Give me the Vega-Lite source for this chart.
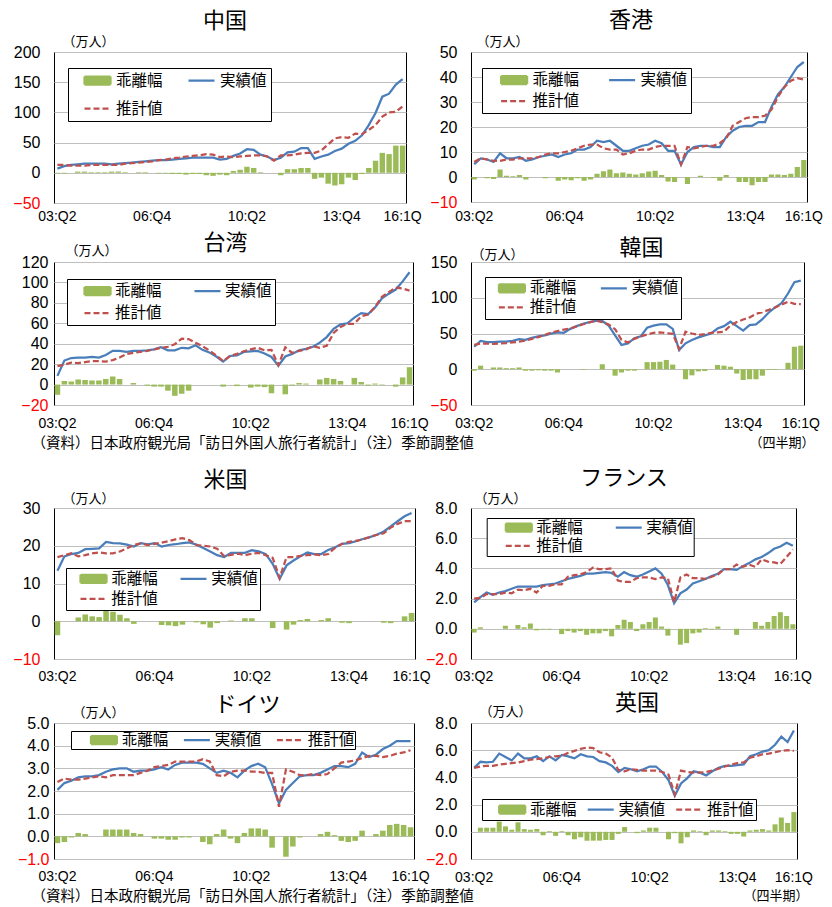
{
"$schema": "https://vega.github.io/schema/vega-lite/v6.json",
"background": "white",
"padding": 0,
"columns": 4,
"spacing": 0,
"bounds": "flush",
"resolve": {"scale": {"color": "independent"}, "legend": {"color": "independent"}},
"config": {
  "font": "Noto Sans CJK JP",
  "view": {"stroke": "#000000", "strokeWidth": 1},
  "title": {"font": "Noto Sans CJK JP", "fontSize": 22, "fontWeight": "normal", "frame": "group", "anchor": "middle", "baseline": "bottom", "color": "#000000"},
  "axisX": {"ticks": false, "domain": false, "grid": false, "labelAngle": 0, "labelFont": "Liberation Sans", "labelFontSize": 14, "labelColor": "#000000", "labelOverlap": false, "titleFont": "Noto Sans CJK JP", "titleFontWeight": "normal", "titleColor": "#000000", "titleAngle": 0, "titleAlign": "left", "titleBaseline": "middle"},
  "axisY": {"grid": true, "gridColor": "#BFBFBF", "gridWidth": 1, "domain": false, "ticks": false, "labelOverlap": false, "labelBound": false, "labelFont": "Liberation Sans", "labelFontSize": 16, "labelPadding": 14, "titleFont": "Noto Sans CJK JP", "titleFontSize": 13, "titleFontWeight": "normal", "titleColor": "#000000", "titleAngle": 0, "titleAlign": "left", "titleBaseline": "bottom"},
  "legend": {"orient": "none", "direction": "horizontal", "strokeColor": "#000000", "fillColor": "#FFFFFF", "cornerRadius": 0, "strokeWidth": 1, "symbolSize": 676, "symbolOffset": 0, "clipHeight": 18, "labelFont": "Noto Sans CJK JP", "labelFontSize": 15.5, "labelColor": "#000000", "labelLimit": 300, "titleOrient": "left", "titleFontSize": 1, "titleColor": "#FFFFFF"},
  "line": {"strokeWidth": 2.25},
  "bar": {"color": "#9BBB59"},
  "point": {"size": 0, "strokeWidth": 0, "opacity": 0}
},
"datasets": {
"cn": [{"i":0,"a":7,"e":13,"g":-1},{"i":1,"a":11,"e":13,"g":-1},{"i":2,"a":13,"e":12,"g":0},{"i":3,"a":14,"e":12,"g":2},{"i":4,"a":15,"e":12,"g":2},{"i":5,"a":15,"e":13,"g":1},{"i":6,"a":15,"e":13,"g":1},{"i":7,"a":15,"e":13,"g":1},{"i":8,"a":14,"e":13,"g":2},{"i":9,"a":15,"e":13,"g":2},{"i":10,"a":16,"e":15,"g":1},{"i":11,"a":17,"e":16,"g":0},{"i":12,"a":18,"e":17,"g":1},{"i":13,"a":19,"e":18,"g":1},{"i":14,"a":20,"e":19,"g":0},{"i":15,"a":21,"e":21,"g":-1},{"i":16,"a":21,"e":22,"g":-1},{"i":17,"a":22,"e":24,"g":-2},{"i":18,"a":23,"e":25,"g":-2},{"i":19,"a":24,"e":27,"g":-3},{"i":20,"a":25,"e":28,"g":-2},{"i":21,"a":25,"e":29,"g":-2},{"i":22,"a":25,"e":31,"g":-4},{"i":23,"a":25,"e":30,"g":-5},{"i":24,"a":22,"e":26,"g":-3},{"i":25,"a":23,"e":27,"g":-4},{"i":26,"a":28,"e":26,"g":3},{"i":27,"a":32,"e":27,"g":5},{"i":28,"a":39,"e":28,"g":10},{"i":29,"a":38,"e":29,"g":8},{"i":30,"a":30,"e":29,"g":1},{"i":31,"a":27,"e":27,"g":0},{"i":32,"a":21,"e":20,"g":0},{"i":33,"a":25,"e":29,"g":-4},{"i":34,"a":34,"e":29,"g":6},{"i":35,"a":35,"e":30,"g":6},{"i":36,"a":41,"e":32,"g":8},{"i":37,"a":41,"e":33,"g":8},{"i":38,"a":23,"e":33,"g":-10},{"i":39,"a":27,"e":37,"g":-8},{"i":40,"a":30,"e":47,"g":-18},{"i":41,"a":36,"e":57,"g":-21},{"i":42,"a":40,"e":59,"g":-19},{"i":43,"a":48,"e":58,"g":-8},{"i":44,"a":53,"e":65,"g":-12},{"i":45,"a":62,"e":64,"g":-2},{"i":46,"a":79,"e":71,"g":8},{"i":47,"a":99,"e":79,"g":20},{"i":48,"a":126,"e":93,"g":33},{"i":49,"a":131,"e":100,"g":31},{"i":50,"a":146,"e":101,"g":45},{"i":51,"a":155,"e":110,"g":45}],
"hk": [{"i":0,"a":5.1,"e":6,"g":-1},{"i":1,"a":7.4,"e":7.5,"g":0},{"i":2,"a":7,"e":7,"g":-0.5},{"i":3,"a":6,"e":6.5,"g":-0.8},{"i":4,"a":9.5,"e":6.5,"g":3},{"i":5,"a":7.5,"e":7,"g":0.5},{"i":6,"a":7.5,"e":7,"g":0.3},{"i":7,"a":8,"e":7.5,"g":0.8},{"i":8,"a":6.5,"e":7.5,"g":-1},{"i":9,"a":7,"e":7.5,"g":0},{"i":10,"a":8,"e":8,"g":0},{"i":11,"a":8.5,"e":9,"g":-0.5},{"i":12,"a":9,"e":9.5,"g":0},{"i":13,"a":8,"e":9.5,"g":-1.5},{"i":14,"a":9,"e":10,"g":-1},{"i":15,"a":9.5,"e":10.5,"g":-1.3},{"i":16,"a":11,"e":11.5,"g":-0.5},{"i":17,"a":11,"e":12.5,"g":-1.5},{"i":18,"a":12,"e":13,"g":-1},{"i":19,"a":14.5,"e":13,"g":1.3},{"i":20,"a":14,"e":11.5,"g":2.3},{"i":21,"a":14.5,"e":11,"g":3},{"i":22,"a":12.5,"e":11,"g":1.5},{"i":23,"a":10.5,"e":9,"g":1.8},{"i":24,"a":10.5,"e":9.5,"g":1.3},{"i":25,"a":11.5,"e":10.5,"g":1},{"i":26,"a":12.5,"e":11,"g":1.5},{"i":27,"a":13,"e":11,"g":2.2},{"i":28,"a":14.5,"e":12,"g":2.5},{"i":29,"a":13.5,"e":12.5,"g":0.8},{"i":30,"a":10.5,"e":12.5,"g":-1.8},{"i":31,"a":10.5,"e":12.5,"g":-2},{"i":32,"a":5,"e":5,"g":0},{"i":33,"a":10,"e":12,"g":-2.8},{"i":34,"a":12,"e":11.5,"g":0},{"i":35,"a":12.5,"e":12,"g":0.5},{"i":36,"a":12.5,"e":12.5,"g":0},{"i":37,"a":12,"e":12.5,"g":-0.3},{"i":38,"a":12,"e":13.5,"g":-1.5},{"i":39,"a":16,"e":15.5,"g":0.8},{"i":40,"a":18.5,"e":20.5,"g":0},{"i":41,"a":20,"e":22,"g":-2},{"i":42,"a":20.5,"e":23.5,"g":-2},{"i":43,"a":20.5,"e":24,"g":-3.3},{"i":44,"a":22,"e":24,"g":-2},{"i":45,"a":22,"e":24.5,"g":-2},{"i":46,"a":28,"e":27,"g":1},{"i":47,"a":33,"e":32,"g":1},{"i":48,"a":36,"e":36,"g":0.8},{"i":49,"a":40,"e":38.5,"g":1.3},{"i":50,"a":44,"e":39.5,"g":4},{"i":51,"a":46,"e":39,"g":6.8}],
"tw": [{"i":0,"a":8.5,"e":18,"g":-10},{"i":1,"a":23.5,"e":19.5,"g":3.5},{"i":2,"a":26,"e":21.5,"g":3},{"i":3,"a":26.5,"e":21,"g":5},{"i":4,"a":26.5,"e":22,"g":4.5},{"i":5,"a":27,"e":23,"g":4},{"i":6,"a":26.5,"e":23,"g":4},{"i":7,"a":29,"e":22.5,"g":5.5},{"i":8,"a":33,"e":24,"g":8},{"i":9,"a":33,"e":26.5,"g":5.5},{"i":10,"a":32,"e":30,"g":0},{"i":11,"a":33,"e":31,"g":1.5},{"i":12,"a":33,"e":32,"g":0},{"i":13,"a":33.5,"e":33,"g":-1},{"i":14,"a":34.5,"e":34.5,"g":-2},{"i":15,"a":36.5,"e":36,"g":-2},{"i":16,"a":33.5,"e":37,"g":-6},{"i":17,"a":33.5,"e":39.5,"g":-11},{"i":18,"a":36,"e":45,"g":-9},{"i":19,"a":35.5,"e":44.5,"g":-6},{"i":20,"a":38.5,"e":41,"g":0},{"i":21,"a":34,"e":37.5,"g":0},{"i":22,"a":31.5,"e":33.5,"g":0},{"i":23,"a":27.5,"e":28.5,"g":0},{"i":24,"a":22.5,"e":23,"g":-2},{"i":25,"a":28,"e":28,"g":0},{"i":26,"a":28.5,"e":30,"g":-1.5},{"i":27,"a":32,"e":32.5,"g":0},{"i":28,"a":32.5,"e":34.5,"g":-3},{"i":29,"a":33,"e":36,"g":-2},{"i":30,"a":30.5,"e":33.5,"g":-2.5},{"i":31,"a":27,"e":34,"g":-8.5},{"i":32,"a":18.5,"e":19,"g":0},{"i":33,"a":27.5,"e":36.5,"g":-9.5},{"i":34,"a":30,"e":31,"g":-1},{"i":35,"a":33.5,"e":33,"g":1.5},{"i":36,"a":35,"e":34.5,"g":1},{"i":37,"a":37,"e":37.5,"g":0},{"i":38,"a":41,"e":36,"g":5},{"i":39,"a":46.5,"e":38,"g":6.5},{"i":40,"a":54.5,"e":50.5,"g":5.5},{"i":41,"a":59,"e":56.5,"g":3.5},{"i":42,"a":60,"e":59.5,"g":0},{"i":43,"a":65.5,"e":59.5,"g":6.5},{"i":44,"a":70,"e":67,"g":2.5},{"i":45,"a":69,"e":68.5,"g":-1},{"i":46,"a":75.5,"e":76,"g":1},{"i":47,"a":84.5,"e":86,"g":-0.5},{"i":48,"a":89,"e":90.5,"g":0},{"i":49,"a":93,"e":95,"g":-2},{"i":50,"a":101,"e":94,"g":7},{"i":51,"a":110,"e":92,"g":17}],
"kr": [{"i":0,"a":31.5,"e":34,"g":-2},{"i":1,"a":39.7,"e":36,"g":5},{"i":2,"a":37.8,"e":36,"g":0},{"i":3,"a":38,"e":35.5,"g":2.5},{"i":4,"a":38.7,"e":36,"g":2.5},{"i":5,"a":38.7,"e":36.5,"g":1.5},{"i":6,"a":39.7,"e":37.5,"g":1.5},{"i":7,"a":42,"e":38.5,"g":2.5},{"i":8,"a":41,"e":40,"g":-2},{"i":9,"a":44,"e":42.5,"g":-2},{"i":10,"a":46,"e":45,"g":-1.5},{"i":11,"a":47.3,"e":48,"g":-2},{"i":12,"a":49.8,"e":51,"g":-2},{"i":13,"a":51.7,"e":53.5,"g":-4.5},{"i":14,"a":51,"e":55.5,"g":0},{"i":15,"a":56.5,"e":57,"g":0},{"i":16,"a":60.3,"e":60,"g":0},{"i":17,"a":63.7,"e":63,"g":-1},{"i":18,"a":66,"e":65.5,"g":0},{"i":19,"a":67.5,"e":68,"g":0},{"i":20,"a":67.5,"e":66,"g":7},{"i":21,"a":61,"e":62.5,"g":0},{"i":22,"a":47.3,"e":56,"g":-9},{"i":23,"a":34,"e":41,"g":-4.5},{"i":24,"a":36,"e":37.5,"g":-2},{"i":25,"a":43.5,"e":42.5,"g":-2},{"i":26,"a":46,"e":46,"g":0},{"i":27,"a":58,"e":48.5,"g":10},{"i":28,"a":61,"e":51,"g":10},{"i":29,"a":62.7,"e":51.5,"g":10.5},{"i":30,"a":62.7,"e":50.5,"g":13},{"i":31,"a":56.5,"e":49.5,"g":6.5},{"i":32,"a":26.8,"e":28.5,"g":0},{"i":33,"a":36.3,"e":52.5,"g":-14},{"i":34,"a":41,"e":50,"g":-8.5},{"i":35,"a":44.5,"e":48,"g":-3},{"i":36,"a":47.3,"e":49,"g":-2.5},{"i":37,"a":50,"e":51,"g":0},{"i":38,"a":57,"e":51.5,"g":6},{"i":39,"a":60.3,"e":52.5,"g":5},{"i":40,"a":66.5,"e":61,"g":3.5},{"i":41,"a":60.3,"e":66,"g":-6},{"i":42,"a":54,"e":69.5,"g":-15},{"i":43,"a":61.7,"e":72.5,"g":-14},{"i":44,"a":62.7,"e":77.5,"g":-14},{"i":45,"a":70,"e":80,"g":-9},{"i":46,"a":79.4,"e":83,"g":-1},{"i":47,"a":86.6,"e":86.5,"g":-1},{"i":48,"a":92.4,"e":90.5,"g":0},{"i":49,"a":105.9,"e":94.5,"g":9},{"i":50,"a":121.7,"e":91.5,"g":31.5},{"i":51,"a":124,"e":91,"g":33}],
"us": [{"i":0,"a":13.4,"e":17,"g":-3.7},{"i":1,"a":17.2,"e":17.5,"g":0},{"i":2,"a":17.8,"e":18,"g":0},{"i":3,"a":18.1,"e":17.2,"g":1},{"i":4,"a":19.1,"e":17.5,"g":1.8},{"i":5,"a":19.2,"e":18,"g":1.3},{"i":6,"a":19.3,"e":18.2,"g":1.1},{"i":7,"a":21,"e":18,"g":3},{"i":8,"a":20.7,"e":18,"g":2.5},{"i":9,"a":20.6,"e":18.5,"g":1.7},{"i":10,"a":20.3,"e":19.3,"g":0.8},{"i":11,"a":19.8,"e":20.2,"g":-0.7},{"i":12,"a":20.7,"e":20.6,"g":0},{"i":13,"a":20.4,"e":20.2,"g":0},{"i":14,"a":20.7,"e":20.5,"g":0},{"i":15,"a":19.8,"e":20.8,"g":-1},{"i":16,"a":20.2,"e":21.2,"g":-1.1},{"i":17,"a":20.4,"e":21.7,"g":-1.3},{"i":18,"a":20.7,"e":22,"g":-0.9},{"i":19,"a":20.9,"e":21.5,"g":0},{"i":20,"a":20.3,"e":20.2,"g":-0.3},{"i":21,"a":19.4,"e":20,"g":-0.8},{"i":22,"a":18.5,"e":19.8,"g":-1.7},{"i":23,"a":17.5,"e":19.2,"g":-0.5},{"i":24,"a":17,"e":17.3,"g":0},{"i":25,"a":18.1,"e":17.6,"g":0.2},{"i":26,"a":18.1,"e":17.9,"g":0},{"i":27,"a":18.1,"e":17.5,"g":0.8},{"i":28,"a":18.8,"e":17.9,"g":0.8},{"i":29,"a":18.5,"e":18.1,"g":0},{"i":30,"a":17.8,"e":17.5,"g":0},{"i":31,"a":15.2,"e":16.8,"g":-1.8},{"i":32,"a":11.2,"e":11.5,"g":0},{"i":33,"a":14.8,"e":17,"g":-2.2},{"i":34,"a":16.1,"e":17,"g":-0.9},{"i":35,"a":17.2,"e":17.3,"g":0.3},{"i":36,"a":18.2,"e":17.5,"g":0.6},{"i":37,"a":17.8,"e":17.7,"g":0},{"i":38,"a":17.8,"e":17.5,"g":0.3},{"i":39,"a":18.9,"e":17.8,"g":0.8},{"i":40,"a":19.6,"e":19.5,"g":0},{"i":41,"a":20.5,"e":20.5,"g":-0.4},{"i":42,"a":20.7,"e":21,"g":-0.5},{"i":43,"a":21.2,"e":21.3,"g":0},{"i":44,"a":21.8,"e":21.7,"g":0},{"i":45,"a":22.3,"e":22.3,"g":0},{"i":46,"a":22.9,"e":22.9,"g":0},{"i":47,"a":23.8,"e":23.3,"g":-0.4},{"i":48,"a":25.1,"e":24.8,"g":-0.5},{"i":49,"a":26.5,"e":25.8,"g":0},{"i":50,"a":27.8,"e":26.5,"g":1.3},{"i":51,"a":28.7,"e":26.5,"g":2.2}],
"fr": [{"i":0,"a":1.75,"e":2.0,"g":-0.25},{"i":1,"a":2.1,"e":2.05,"g":0.1},{"i":2,"a":2.4,"e":2.3,"g":0},{"i":3,"a":2.25,"e":2.3,"g":0},{"i":4,"a":2.4,"e":2.3,"g":0},{"i":5,"a":2.5,"e":2.4,"g":0.2},{"i":6,"a":2.65,"e":2.35,"g":0},{"i":7,"a":2.8,"e":2.6,"g":0.25},{"i":8,"a":2.8,"e":2.55,"g":0.1},{"i":9,"a":2.8,"e":2.65,"g":0.35},{"i":10,"a":2.8,"e":2.4,"g":-0.1},{"i":11,"a":2.9,"e":2.85,"g":-0.05},{"i":12,"a":2.95,"e":2.85,"g":-0.05},{"i":13,"a":3.0,"e":2.95,"g":0},{"i":14,"a":3.15,"e":2.95,"g":-0.35},{"i":15,"a":3.3,"e":3.45,"g":-0.15},{"i":16,"a":3.4,"e":3.55,"g":-0.25},{"i":17,"a":3.5,"e":3.6,"g":-0.15},{"i":18,"a":3.65,"e":3.75,"g":-0.4},{"i":19,"a":3.65,"e":4.05,"g":-0.3},{"i":20,"a":3.7,"e":3.95,"g":-0.3},{"i":21,"a":3.75,"e":3.95,"g":-0.15},{"i":22,"a":3.7,"e":4.0,"g":-0.5},{"i":23,"a":3.45,"e":3.2,"g":0.25},{"i":24,"a":3.75,"e":3.1,"g":0.6},{"i":25,"a":3.55,"e":3.1,"g":0.45},{"i":26,"a":3.45,"e":3.35,"g":-0.15},{"i":27,"a":3.6,"e":3.4,"g":0.3},{"i":28,"a":3.8,"e":3.4,"g":0.45},{"i":29,"a":4.0,"e":3.3,"g":0.75},{"i":30,"a":3.65,"e":3.4,"g":0.15},{"i":31,"a":2.9,"e":3.35,"g":-0.45},{"i":32,"a":1.7,"e":1.75,"g":0},{"i":33,"a":2.35,"e":3.4,"g":-1.05},{"i":34,"a":2.6,"e":3.6,"g":-0.95},{"i":35,"a":3.0,"e":3.35,"g":-0.3},{"i":36,"a":3.15,"e":3.35,"g":-0.25},{"i":37,"a":3.3,"e":3.3,"g":0.05},{"i":38,"a":3.5,"e":3.45,"g":-0.05},{"i":39,"a":3.65,"e":3.6,"g":0.15},{"i":40,"a":3.95,"e":3.95,"g":0},{"i":41,"a":3.95,"e":3.95,"g":0},{"i":42,"a":3.9,"e":4.25,"g":-0.4},{"i":43,"a":4.15,"e":4.1,"g":0},{"i":44,"a":4.35,"e":4.25,"g":0},{"i":45,"a":4.6,"e":4.1,"g":0.45},{"i":46,"a":4.75,"e":4.6,"g":0.2},{"i":47,"a":5.0,"e":4.45,"g":0.45},{"i":48,"a":5.3,"e":4.4,"g":0.85},{"i":49,"a":5.45,"e":4.3,"g":1.1},{"i":50,"a":5.7,"e":4.75,"g":0.85},{"i":51,"a":5.5,"e":5.25,"g":0.3}],
"de": [{"i":0,"a":2.05,"e":2.4,"g":-0.3},{"i":1,"a":2.35,"e":2.55,"g":-0.25},{"i":2,"a":2.45,"e":2.5,"g":-0.05},{"i":3,"a":2.6,"e":2.5,"g":0.15},{"i":4,"a":2.65,"e":2.55,"g":0.1},{"i":5,"a":2.65,"e":2.6,"g":0},{"i":6,"a":2.7,"e":2.65,"g":0},{"i":7,"a":2.85,"e":2.6,"g":0.3},{"i":8,"a":2.95,"e":2.7,"g":0.3},{"i":9,"a":3.0,"e":2.7,"g":0.3},{"i":10,"a":3.0,"e":2.7,"g":0.3},{"i":11,"a":2.85,"e":2.7,"g":0.15},{"i":12,"a":2.9,"e":2.8,"g":0.1},{"i":13,"a":2.9,"e":2.9,"g":0},{"i":14,"a":2.95,"e":3.05,"g":-0.1},{"i":15,"a":3.05,"e":3.1,"g":-0.1},{"i":16,"a":2.95,"e":3.15,"g":-0.15},{"i":17,"a":3.15,"e":3.3,"g":-0.15},{"i":18,"a":3.25,"e":3.3,"g":-0.05},{"i":19,"a":3.25,"e":3.3,"g":-0.05},{"i":20,"a":3.25,"e":3.3,"g":0},{"i":21,"a":3.2,"e":3.4,"g":-0.25},{"i":22,"a":3.0,"e":3.3,"g":-0.35},{"i":23,"a":2.8,"e":2.7,"g":0.1},{"i":24,"a":2.9,"e":2.65,"g":0.3},{"i":25,"a":2.8,"e":2.85,"g":-0.1},{"i":26,"a":2.6,"e":2.9,"g":-0.3},{"i":27,"a":2.9,"e":2.9,"g":0.15},{"i":28,"a":3.1,"e":2.85,"g":0.35},{"i":29,"a":3.2,"e":2.85,"g":0.35},{"i":30,"a":3.05,"e":2.8,"g":0.3},{"i":31,"a":2.3,"e":2.8,"g":-0.5},{"i":32,"a":1.45,"e":1.3,"g":0},{"i":33,"a":2.05,"e":2.95,"g":-0.9},{"i":34,"a":2.35,"e":2.85,"g":-0.45},{"i":35,"a":2.65,"e":2.7,"g":-0.05},{"i":36,"a":2.7,"e":2.7,"g":0},{"i":37,"a":2.7,"e":2.75,"g":0},{"i":38,"a":2.8,"e":2.7,"g":0.1},{"i":39,"a":2.95,"e":2.75,"g":0.2},{"i":40,"a":3.1,"e":3.0,"g":0.05},{"i":41,"a":3.1,"e":3.25,"g":-0.2},{"i":42,"a":3.05,"e":3.3,"g":-0.25},{"i":43,"a":3.2,"e":3.35,"g":-0.2},{"i":44,"a":3.7,"e":3.45,"g":0.25},{"i":45,"a":3.5,"e":3.55,"g":0},{"i":46,"a":3.6,"e":3.55,"g":0.1},{"i":47,"a":3.85,"e":3.5,"g":0.25},{"i":48,"a":4.0,"e":3.55,"g":0.5},{"i":49,"a":4.2,"e":3.65,"g":0.55},{"i":50,"a":4.2,"e":3.7,"g":0.5},{"i":51,"a":4.2,"e":3.8,"g":0.4}],
"uk": [{"i":0,"a":4.7,"e":4.7,"g":0},{"i":1,"a":5.15,"e":4.8,"g":0.3},{"i":2,"a":5.1,"e":4.85,"g":0.3},{"i":3,"a":5.15,"e":4.85,"g":0.3},{"i":4,"a":5.75,"e":4.95,"g":0.75},{"i":5,"a":5.5,"e":5.0,"g":0.4},{"i":6,"a":5.25,"e":5.05,"g":0.15},{"i":7,"a":5.75,"e":5.1,"g":0.7},{"i":8,"a":5.4,"e":5.2,"g":0.2},{"i":9,"a":5.4,"e":5.3,"g":0.15},{"i":10,"a":5.55,"e":5.35,"g":0.2},{"i":11,"a":5.2,"e":5.4,"g":-0.25},{"i":12,"a":5.55,"e":5.5,"g":0.05},{"i":13,"a":5.25,"e":5.55,"g":-0.3},{"i":14,"a":5.65,"e":5.6,"g":0.05},{"i":15,"a":5.55,"e":5.8,"g":-0.25},{"i":16,"a":5.4,"e":5.95,"g":-0.55},{"i":17,"a":5.7,"e":6.1,"g":-0.4},{"i":18,"a":5.55,"e":6.2,"g":-0.65},{"i":19,"a":5.5,"e":6.15,"g":-0.65},{"i":20,"a":5.2,"e":5.85,"g":-0.65},{"i":21,"a":5.1,"e":5.75,"g":-0.6},{"i":22,"a":4.85,"e":5.45,"g":-0.6},{"i":23,"a":4.4,"e":4.55,"g":-0.15},{"i":24,"a":4.7,"e":4.45,"g":0.35},{"i":25,"a":4.6,"e":4.6,"g":0},{"i":26,"a":4.45,"e":4.55,"g":-0.1},{"i":27,"a":4.6,"e":4.5,"g":0.1},{"i":28,"a":4.8,"e":4.5,"g":0.3},{"i":29,"a":4.8,"e":4.5,"g":0.3},{"i":30,"a":4.4,"e":4.4,"g":0},{"i":31,"a":3.8,"e":4.2,"g":-0.55},{"i":32,"a":2.65,"e":2.75,"g":-0.1},{"i":33,"a":3.55,"e":4.5,"g":-0.85},{"i":34,"a":3.95,"e":4.4,"g":-0.4},{"i":35,"a":4.45,"e":4.35,"g":0.1},{"i":36,"a":4.35,"e":4.35,"g":0.05},{"i":37,"a":4.15,"e":4.4,"g":-0.25},{"i":38,"a":4.45,"e":4.5,"g":0.1},{"i":39,"a":4.7,"e":4.65,"g":0.1},{"i":40,"a":4.85,"e":4.8,"g":0.05},{"i":41,"a":4.85,"e":4.95,"g":-0.15},{"i":42,"a":4.9,"e":5.05,"g":-0.15},{"i":43,"a":4.95,"e":5.1,"g":-0.35},{"i":44,"a":5.55,"e":5.45,"g":0.1},{"i":45,"a":5.7,"e":5.55,"g":0.15},{"i":46,"a":5.9,"e":5.7,"g":0.2},{"i":47,"a":6.0,"e":5.75,"g":0.1},{"i":48,"a":6.4,"e":5.85,"g":0.55},{"i":49,"a":7.0,"e":5.95,"g":1.05},{"i":50,"a":6.6,"e":6.0,"g":0.65},{"i":51,"a":7.45,"e":5.95,"g":1.45}]
},
"concat": [
{"width": 54, "height": 52, "data": {"values": [{}]}, "mark": "point", "view": {"stroke": null}},
{"width": 1, "height": 52, "data": {"values": [{}]}, "mark": "point", "view": {"stroke": null}},
{"width": 56, "height": 52, "data": {"values": [{}]}, "mark": "point", "view": {"stroke": null}},
{"width": 1, "height": 52, "data": {"values": [{}]}, "mark": "point", "view": {"stroke": null}},

{"width": 54, "height": 1, "data": {"values": [{}]}, "mark": "point", "view": {"stroke": null}},
{"width": 352, "height": 151, "title": {"text": "中国", "offset": 2, "dx": -5}, "data": {"name": "cn"},
 "encoding": {"x": {"field": "i", "type": "ordinal", "scale": {"paddingInner": 0.2, "paddingOuter": 0.1}, "axis": {"values": [0,14,28,42,51], "labelExpr": "datum.value == 0 ? '03:Q2' : datum.value == 14 ? '06:Q4' : datum.value == 28 ? '10:Q2' : datum.value == 42 ? '13:Q4' : '16:1Q'", "title": null, "labelPadding": 6}}},
 "layer": [
  {"mark": {"type": "bar"}, "encoding": {"y": {"field": "g", "type": "quantitative", "title": "（万人）", "scale": {"domain": [-50, 200], "nice": false, "zero": false}, "axis": {"values": [-50,0,50,100,150,200], "tickCount": 50, "format": "d", "titleX": 8, "titleY": -4, "labelColor": {"condition": {"test": "datum.value < 0", "value": "#FF0000"}, "value": "#000000"}}},
   "color": {"datum": "乖離幅", "scale": {"domain": ["乖離幅","実績値","推計値"], "range": ["#9BBB59","#4A7EBB","#C0504D"]},
    "legend": {"legendX": 14, "legendY": 16, "columns": 2, "padding": 3.5, "labelOffset": 4, "columnPadding": 24, "rowPadding": 10, "title": "　", "titlePadding": 11.5,
     "encode": {"symbols": {"update": {"shape": {"signal": "datum.value === '乖離幅' ? 'M-1,-0.3077H1V0.3077H-1Z' : 'M-1,0H1'"}, "fill": {"signal": "datum.value === '乖離幅' ? '#9BBB59' : 'transparent'"}, "stroke": {"signal": "datum.value === '乖離幅' ? 'transparent' : datum.value === '実績値' ? '#4A7EBB' : '#C0504D'"}, "strokeWidth": {"value": 2.25}, "strokeDash": {"signal": "datum.value === '推計値' ? [6,3] : [1,0]"}, "opacity": {"value": 1}, "size": {"value": 676}}}}}}}},
  {"mark": {"type": "line"}, "encoding": {"y": {"field": "a", "type": "quantitative", "title": "（万人）", "scale": {"domain": [-50, 200], "nice": false, "zero": false}}, "color": {"datum": "実績値"}}},
  {"mark": {"type": "line", "strokeDash": [6, 3]}, "encoding": {"y": {"field": "e", "type": "quantitative", "title": "（万人）", "scale": {"domain": [-50, 200], "nice": false, "zero": false}}, "color": {"datum": "推計値"}}}
 ]},
{"width": 56, "height": 1, "data": {"values": [{}]}, "mark": "point", "view": {"stroke": null}},
{"width": 336, "height": 150, "title": {"text": "香港", "offset": 3, "dx": -8}, "data": {"name": "hk"},
 "encoding": {"x": {"field": "i", "type": "ordinal", "scale": {"paddingInner": 0.2, "paddingOuter": 0.1}, "axis": {"values": [0,14,28,42,51], "labelExpr": "datum.value == 0 ? '03:Q2' : datum.value == 14 ? '06:Q4' : datum.value == 28 ? '10:Q2' : datum.value == 42 ? '13:Q4' : '16:1Q'", "title": null, "labelPadding": 7}}},
 "layer": [
  {"mark": {"type": "bar"}, "encoding": {"y": {"field": "g", "type": "quantitative", "title": "（万人）", "scale": {"domain": [-10, 50], "nice": false, "zero": false}, "axis": {"values": [-10,0,10,20,30,40,50], "tickCount": 50, "format": "d", "titleX": 5, "titleY": -4, "labelColor": {"condition": {"test": "datum.value < 0", "value": "#FF0000"}, "value": "#000000"}}},
   "color": {"datum": "乖離幅", "scale": {"domain": ["乖離幅","実績値","推計値"], "range": ["#9BBB59","#4A7EBB","#C0504D"]},
    "legend": {"legendX": 11, "legendY": 16, "columns": 2, "padding": 3, "labelOffset": 4, "columnPadding": 28, "rowPadding": 3, "title": "　", "titlePadding": 14.6,
     "encode": {"symbols": {"update": {"shape": {"signal": "datum.value === '乖離幅' ? 'M-1,-0.3077H1V0.3077H-1Z' : 'M-1,0H1'"}, "fill": {"signal": "datum.value === '乖離幅' ? '#9BBB59' : 'transparent'"}, "stroke": {"signal": "datum.value === '乖離幅' ? 'transparent' : datum.value === '実績値' ? '#4A7EBB' : '#C0504D'"}, "strokeWidth": {"value": 2.25}, "strokeDash": {"signal": "datum.value === '推計値' ? [6,3] : [1,0]"}, "opacity": {"value": 1}, "size": {"value": 676}}}}}}}},
  {"mark": {"type": "line"}, "encoding": {"y": {"field": "a", "type": "quantitative", "title": "（万人）", "scale": {"domain": [-10, 50], "nice": false, "zero": false}}, "color": {"datum": "実績値"}}},
  {"mark": {"type": "line", "strokeDash": [6, 3]}, "encoding": {"y": {"field": "e", "type": "quantitative", "title": "（万人）", "scale": {"domain": [-10, 50], "nice": false, "zero": false}}, "color": {"datum": "推計値"}}}
 ]},

{"width": 54, "height": 59, "data": {"values": [{}]}, "mark": "point", "view": {"stroke": null}},
{"width": 1, "height": 59, "data": {"values": [{}]}, "mark": "point", "view": {"stroke": null}},
{"width": 56, "height": 59, "data": {"values": [{}]}, "mark": "point", "view": {"stroke": null}},
{"width": 1, "height": 59, "data": {"values": [{}]}, "mark": "point", "view": {"stroke": null}},

{"width": 54, "height": 1, "data": {"values": [{}]}, "mark": "point", "view": {"stroke": null}},
{"width": 359, "height": 143, "title": {"text": "台湾", "offset": -11, "dx": -8}, "data": {"name": "tw"},
 "encoding": {"x": {"field": "i", "type": "ordinal", "scale": {"paddingInner": 0.2, "paddingOuter": 0.1}, "axis": {"values": [0,14,28,42,51], "labelExpr": "datum.value == 0 ? '03:Q2' : datum.value == 14 ? '06:Q4' : datum.value == 28 ? '10:Q2' : datum.value == 42 ? '13:Q4' : '16:1Q'", "labelPadding": 11, "title": "（資料）日本政府観光局「訪日外国人旅行者統計」（注）季節調整値", "titleX": -23, "titleY": 38, "titleFontSize": 14.5}}},
 "layer": [
  {"mark": {"type": "bar"}, "encoding": {"y": {"field": "g", "type": "quantitative", "title": "（万人）", "scale": {"domain": [-20, 120], "nice": false, "zero": false}, "axis": {"values": [-20,0,20,40,60,80,100,120], "tickCount": 50, "format": "d", "labelPadding": 6, "titleX": 11, "titleY": -5, "labelColor": {"condition": {"test": "datum.value < 0", "value": "#FF0000"}, "value": "#000000"}}},
   "color": {"datum": "乖離幅", "scale": {"domain": ["乖離幅","実績値","推計値"], "range": ["#9BBB59","#4A7EBB","#C0504D"]},
    "legend": {"legendX": 13, "legendY": 17, "columns": 2, "padding": 3, "labelOffset": 3, "columnPadding": 31, "rowPadding": 4, "title": "　", "titlePadding": 13,
     "encode": {"symbols": {"update": {"shape": {"signal": "datum.value === '乖離幅' ? 'M-1,-0.3077H1V0.3077H-1Z' : 'M-1,0H1'"}, "fill": {"signal": "datum.value === '乖離幅' ? '#9BBB59' : 'transparent'"}, "stroke": {"signal": "datum.value === '乖離幅' ? 'transparent' : datum.value === '実績値' ? '#4A7EBB' : '#C0504D'"}, "strokeWidth": {"value": 2.25}, "strokeDash": {"signal": "datum.value === '推計値' ? [6,3] : [1,0]"}, "opacity": {"value": 1}, "size": {"value": 676}}}}}}}},
  {"mark": {"type": "line"}, "encoding": {"y": {"field": "a", "type": "quantitative", "title": "（万人）", "scale": {"domain": [-20, 120], "nice": false, "zero": false}}, "color": {"datum": "実績値"}}},
  {"mark": {"type": "line", "strokeDash": [6, 3]}, "encoding": {"y": {"field": "e", "type": "quantitative", "title": "（万人）", "scale": {"domain": [-20, 120], "nice": false, "zero": false}}, "color": {"datum": "推計値"}}}
 ]},
{"width": 56, "height": 1, "data": {"values": [{}]}, "mark": "point", "view": {"stroke": null}},
{"width": 333, "height": 143, "title": {"text": "韓国", "offset": -12, "dx": 4}, "data": {"name": "kr"},
 "encoding": {"x": {"field": "i", "type": "ordinal", "scale": {"paddingInner": 0.2, "paddingOuter": 0.1}, "axis": {"values": [0,14,28,42,51], "labelExpr": "datum.value == 0 ? '03:Q2' : datum.value == 14 ? '06:Q4' : datum.value == 28 ? '10:Q2' : datum.value == 42 ? '13:Q4' : '16:1Q'", "labelPadding": 11, "title": "（四半期）", "titleX": 278, "titleY": 37, "titleFontSize": 13}}},
 "layer": [
  {"mark": {"type": "bar"}, "encoding": {"y": {"field": "g", "type": "quantitative", "title": "（万人）", "scale": {"domain": [-50, 150], "nice": false, "zero": false}, "axis": {"values": [-50,0,50,100,150], "tickCount": 50, "format": "d", "titleX": 0, "titleY": -1, "labelColor": {"condition": {"test": "datum.value < 0", "value": "#FF0000"}, "value": "#000000"}}},
   "color": {"datum": "乖離幅", "scale": {"domain": ["乖離幅","実績値","推計値"], "range": ["#9BBB59","#4A7EBB","#C0504D"]},
    "legend": {"legendX": 14, "legendY": 15, "columns": 2, "padding": 2.35, "labelOffset": 3.3, "columnPadding": 23, "rowPadding": 1, "title": "　", "titlePadding": 10,
     "encode": {"symbols": {"update": {"shape": {"signal": "datum.value === '乖離幅' ? 'M-1,-0.3077H1V0.3077H-1Z' : 'M-1,0H1'"}, "fill": {"signal": "datum.value === '乖離幅' ? '#9BBB59' : 'transparent'"}, "stroke": {"signal": "datum.value === '乖離幅' ? 'transparent' : datum.value === '実績値' ? '#4A7EBB' : '#C0504D'"}, "strokeWidth": {"value": 2.25}, "strokeDash": {"signal": "datum.value === '推計値' ? [6,3] : [1,0]"}, "opacity": {"value": 1}, "size": {"value": 676}}}}}}}},
  {"mark": {"type": "line"}, "encoding": {"y": {"field": "a", "type": "quantitative", "title": "（万人）", "scale": {"domain": [-50, 150], "nice": false, "zero": false}}, "color": {"datum": "実績値"}}},
  {"mark": {"type": "line", "strokeDash": [6, 3]}, "encoding": {"y": {"field": "e", "type": "quantitative", "title": "（万人）", "scale": {"domain": [-50, 150], "nice": false, "zero": false}}, "color": {"datum": "推計値"}}}
 ]},

{"width": 54, "height": 103, "data": {"values": [{}]}, "mark": "point", "view": {"stroke": null}},
{"width": 1, "height": 103, "data": {"values": [{}]}, "mark": "point", "view": {"stroke": null}},
{"width": 56, "height": 103, "data": {"values": [{}]}, "mark": "point", "view": {"stroke": null}},
{"width": 1, "height": 103, "data": {"values": [{}]}, "mark": "point", "view": {"stroke": null}},

{"width": 54, "height": 1, "data": {"values": [{}]}, "mark": "point", "view": {"stroke": null}},
{"width": 361, "height": 151, "title": {"text": "米国", "offset": 0, "dx": -9}, "data": {"name": "us"},
 "encoding": {"x": {"field": "i", "type": "ordinal", "scale": {"paddingInner": 0.2, "paddingOuter": 0.1}, "axis": {"values": [0,14,28,42,51], "labelExpr": "datum.value == 0 ? '03:Q2' : datum.value == 14 ? '06:Q4' : datum.value == 28 ? '10:Q2' : datum.value == 42 ? '13:Q4' : '16:1Q'", "title": null, "labelPadding": 10}}},
 "layer": [
  {"mark": {"type": "bar"}, "encoding": {"y": {"field": "g", "type": "quantitative", "title": "（万人）", "scale": {"domain": [-10, 30], "nice": false, "zero": false}, "axis": {"values": [-10,0,10,20,30], "tickCount": 50, "format": "d", "titleX": 8, "titleY": -3, "labelColor": {"condition": {"test": "datum.value < 0", "value": "#FF0000"}, "value": "#000000"}}},
   "color": {"datum": "乖離幅", "scale": {"domain": ["乖離幅","実績値","推計値"], "range": ["#9BBB59","#4A7EBB","#C0504D"]},
    "legend": {"legendX": 12, "legendY": 60, "columns": 2, "padding": 1.85, "labelOffset": 3.3, "columnPadding": 21, "rowPadding": 2, "title": "　", "titlePadding": 11.15,
     "encode": {"symbols": {"update": {"shape": {"signal": "datum.value === '乖離幅' ? 'M-1,-0.3077H1V0.3077H-1Z' : 'M-1,0H1'"}, "fill": {"signal": "datum.value === '乖離幅' ? '#9BBB59' : 'transparent'"}, "stroke": {"signal": "datum.value === '乖離幅' ? 'transparent' : datum.value === '実績値' ? '#4A7EBB' : '#C0504D'"}, "strokeWidth": {"value": 2.25}, "strokeDash": {"signal": "datum.value === '推計値' ? [6,3] : [1,0]"}, "opacity": {"value": 1}, "size": {"value": 676}}}}}}}},
  {"mark": {"type": "line"}, "encoding": {"y": {"field": "a", "type": "quantitative", "title": "（万人）", "scale": {"domain": [-10, 30], "nice": false, "zero": false}}, "color": {"datum": "実績値"}}},
  {"mark": {"type": "line", "strokeDash": [6, 3]}, "encoding": {"y": {"field": "e", "type": "quantitative", "title": "（万人）", "scale": {"domain": [-10, 30], "nice": false, "zero": false}}, "color": {"datum": "推計値"}}}
 ]},
{"width": 56, "height": 1, "data": {"values": [{}]}, "mark": "point", "view": {"stroke": null}},
{"width": 325, "height": 151, "title": {"text": "フランス", "offset": 2, "dx": -9.5}, "data": {"name": "fr"},
 "encoding": {"x": {"field": "i", "type": "ordinal", "scale": {"paddingInner": 0.2, "paddingOuter": 0.1}, "axis": {"values": [0,14,28,42,51], "labelExpr": "datum.value == 0 ? '03:Q2' : datum.value == 14 ? '06:Q4' : datum.value == 28 ? '10:Q2' : datum.value == 42 ? '13:Q4' : '16:1Q'", "title": null, "labelPadding": 10}}},
 "layer": [
  {"mark": {"type": "bar"}, "encoding": {"y": {"field": "g", "type": "quantitative", "title": "（万人）", "scale": {"domain": [-2, 8], "nice": false, "zero": false}, "axis": {"values": [-2,0,2,4,6,8], "tickCount": 50, "format": ".1f", "titleX": 3, "titleY": -3, "labelColor": {"condition": {"test": "datum.value < 0", "value": "#FF0000"}, "value": "#000000"}}},
   "color": {"datum": "乖離幅", "scale": {"domain": ["乖離幅","実績値","推計値"], "range": ["#9BBB59","#4A7EBB","#C0504D"]},
    "legend": {"legendX": 15.7, "legendY": 10, "columns": 2, "padding": 0.55, "labelOffset": 3, "columnPadding": 31, "rowPadding": 0.3, "title": "　", "titlePadding": 17,
     "encode": {"symbols": {"update": {"shape": {"signal": "datum.value === '乖離幅' ? 'M-1,-0.3077H1V0.3077H-1Z' : 'M-1,0H1'"}, "fill": {"signal": "datum.value === '乖離幅' ? '#9BBB59' : 'transparent'"}, "stroke": {"signal": "datum.value === '乖離幅' ? 'transparent' : datum.value === '実績値' ? '#4A7EBB' : '#C0504D'"}, "strokeWidth": {"value": 2.25}, "strokeDash": {"signal": "datum.value === '推計値' ? [6,3] : [1,0]"}, "opacity": {"value": 1}, "size": {"value": 676}}}}}}}},
  {"mark": {"type": "line"}, "encoding": {"y": {"field": "a", "type": "quantitative", "title": "（万人）", "scale": {"domain": [-2, 8], "nice": false, "zero": false}}, "color": {"datum": "実績値"}}},
  {"mark": {"type": "line", "strokeDash": [6, 3]}, "encoding": {"y": {"field": "e", "type": "quantitative", "title": "（万人）", "scale": {"domain": [-2, 8], "nice": false, "zero": false}}, "color": {"datum": "推計値"}}}
 ]},

{"width": 54, "height": 64, "data": {"values": [{}]}, "mark": "point", "view": {"stroke": null}},
{"width": 1, "height": 64, "data": {"values": [{}]}, "mark": "point", "view": {"stroke": null}},
{"width": 56, "height": 64, "data": {"values": [{}]}, "mark": "point", "view": {"stroke": null}},
{"width": 1, "height": 64, "data": {"values": [{}]}, "mark": "point", "view": {"stroke": null}},

{"width": 54, "height": 1, "data": {"values": [{}]}, "mark": "point", "view": {"stroke": null}},
{"width": 360, "height": 136, "title": {"text": "ドイツ", "offset": -11, "dx": 13.5}, "data": {"name": "de"},
 "encoding": {"x": {"field": "i", "type": "ordinal", "scale": {"paddingInner": 0.2, "paddingOuter": 0.1}, "axis": {"values": [0,14,28,42,51], "labelExpr": "datum.value == 0 ? '03:Q2' : datum.value == 14 ? '06:Q4' : datum.value == 28 ? '10:Q2' : datum.value == 42 ? '13:Q4' : '16:1Q'", "labelPadding": 10, "title": "（資料）日本政府観光局「訪日外国人旅行者統計」（注）季節調整値", "titleX": -23, "titleY": 37, "titleFontSize": 14.5}}},
 "layer": [
  {"mark": {"type": "bar"}, "encoding": {"y": {"field": "g", "type": "quantitative", "title": "（万人）", "scale": {"domain": [-1, 5], "nice": false, "zero": false}, "axis": {"values": [-1,0,1,2,3,4,5], "tickCount": 50, "format": ".1f", "labelPadding": 5, "titleX": 18, "titleY": -4, "labelColor": {"condition": {"test": "datum.value < 0", "value": "#FF0000"}, "value": "#000000"}}},
   "color": {"datum": "乖離幅", "scale": {"domain": ["乖離幅","実績値","推計値"], "range": ["#9BBB59","#4A7EBB","#C0504D"]},
    "legend": {"legendX": 17, "legendY": 8, "columns": 3, "padding": 0, "labelOffset": 3.3, "columnPadding": 14, "rowPadding": 0, "title": "　", "titlePadding": 18.4,
     "encode": {"symbols": {"update": {"shape": {"signal": "datum.value === '乖離幅' ? 'M-1,-0.3077H1V0.3077H-1Z' : 'M-1,0H1'"}, "fill": {"signal": "datum.value === '乖離幅' ? '#9BBB59' : 'transparent'"}, "stroke": {"signal": "datum.value === '乖離幅' ? 'transparent' : datum.value === '実績値' ? '#4A7EBB' : '#C0504D'"}, "strokeWidth": {"value": 2.25}, "strokeDash": {"signal": "datum.value === '推計値' ? [6,3] : [1,0]"}, "opacity": {"value": 1}, "size": {"value": 676}}}}}}}},
  {"mark": {"type": "line"}, "encoding": {"y": {"field": "a", "type": "quantitative", "title": "（万人）", "scale": {"domain": [-1, 5], "nice": false, "zero": false}}, "color": {"datum": "実績値"}}},
  {"mark": {"type": "line", "strokeDash": [6, 3]}, "encoding": {"y": {"field": "e", "type": "quantitative", "title": "（万人）", "scale": {"domain": [-1, 5], "nice": false, "zero": false}}, "color": {"datum": "推計値"}}}
 ]},
{"width": 56, "height": 1, "data": {"values": [{}]}, "mark": "point", "view": {"stroke": null}},
{"width": 326, "height": 136, "title": {"text": "英国", "offset": -10, "dx": 3}, "data": {"name": "uk"},
 "encoding": {"x": {"field": "i", "type": "ordinal", "scale": {"paddingInner": 0.2, "paddingOuter": 0.1}, "axis": {"values": [0,14,28,42,51], "labelExpr": "datum.value == 0 ? '03:Q2' : datum.value == 14 ? '06:Q4' : datum.value == 28 ? '10:Q2' : datum.value == 42 ? '13:Q4' : '16:1Q'", "labelPadding": 11, "title": "（四半期）", "titleX": 272, "titleY": 36, "titleFontSize": 13}}},
 "layer": [
  {"mark": {"type": "bar"}, "encoding": {"y": {"field": "g", "type": "quantitative", "title": "（万人）", "scale": {"domain": [-2, 8], "nice": false, "zero": false}, "axis": {"values": [-2,0,2,4,6,8], "tickCount": 50, "format": ".1f", "titleX": 8, "titleY": -5, "labelColor": {"condition": {"test": "datum.value < 0", "value": "#FF0000"}, "value": "#000000"}}},
   "color": {"datum": "乖離幅", "scale": {"domain": ["乖離幅","実績値","推計値"], "range": ["#9BBB59","#4A7EBB","#C0504D"]},
    "legend": {"legendX": 11, "legendY": 76, "columns": 3, "padding": 1.5, "labelOffset": 3.3, "columnPadding": 9.5, "rowPadding": 0, "title": "　", "titlePadding": 14.2,
     "encode": {"symbols": {"update": {"shape": {"signal": "datum.value === '乖離幅' ? 'M-1,-0.3077H1V0.3077H-1Z' : 'M-1,0H1'"}, "fill": {"signal": "datum.value === '乖離幅' ? '#9BBB59' : 'transparent'"}, "stroke": {"signal": "datum.value === '乖離幅' ? 'transparent' : datum.value === '実績値' ? '#4A7EBB' : '#C0504D'"}, "strokeWidth": {"value": 2.25}, "strokeDash": {"signal": "datum.value === '推計値' ? [6,3] : [1,0]"}, "opacity": {"value": 1}, "size": {"value": 676}}}}}}}},
  {"mark": {"type": "line"}, "encoding": {"y": {"field": "a", "type": "quantitative", "title": "（万人）", "scale": {"domain": [-2, 8], "nice": false, "zero": false}}, "color": {"datum": "実績値"}}},
  {"mark": {"type": "line", "strokeDash": [6, 3]}, "encoding": {"y": {"field": "e", "type": "quantitative", "title": "（万人）", "scale": {"domain": [-2, 8], "nice": false, "zero": false}}, "color": {"datum": "推計値"}}}
 ]}
]
}
